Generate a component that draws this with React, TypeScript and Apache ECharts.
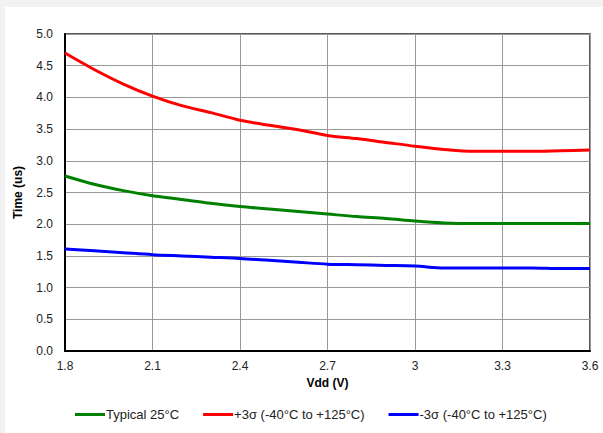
import React, { useEffect, useRef } from "react";
import * as echarts from "echarts";

const vdd = [1.8, 1.9, 2.0, 2.1, 2.2, 2.3, 2.4, 2.5, 2.6, 2.7, 2.8, 2.9, 3.0, 3.1, 3.2, 3.3, 3.4, 3.5, 3.6];
const typical = [2.76, 2.63, 2.53, 2.45, 2.39, 2.33, 2.28, 2.24, 2.20, 2.16, 2.12, 2.09, 2.05, 2.02, 2.01, 2.01, 2.01, 2.01, 2.01];
const plus3 = [4.70, 4.44, 4.21, 4.02, 3.87, 3.76, 3.64, 3.56, 3.49, 3.40, 3.35, 3.29, 3.23, 3.18, 3.15, 3.15, 3.15, 3.16, 3.17];
const minus3 = [1.61, 1.58, 1.55, 1.52, 1.50, 1.48, 1.46, 1.43, 1.40, 1.37, 1.36, 1.35, 1.34, 1.31, 1.31, 1.31, 1.31, 1.30, 1.30];
const seriesNames = ["Typical 25°C", "+3σ (-40°C to +125°C)", "-3σ (-40°C to +125°C)"];
const seriesColors = ["#008000", "#ff0000", "#0000ff"];

const FONT = "'Liberation Sans', Arial, sans-serif";

export default function App() {
  const ref = useRef<HTMLDivElement>(null);
  useEffect(() => {
    document.body.style.margin = "0";
    const chart = echarts.init(ref.current!, null, { renderer: "svg" });
    const mk = (vals: number[]) => vdd.map((x, i) => [x, vals[i]]);
    const all = [typical, plus3, minus3];
    chart.setOption({
      animation: false,
      backgroundColor: "#f2f2f2",
      textStyle: { fontFamily: FONT },
      graphic: [
        { type: "rect", z: -10, shape: { x: 5, y: 7, width: 598, height: 426 }, style: { fill: "#ffffff" }, silent: true },
      ],
      grid: {
        left: 65,
        right: 13,
        top: 34,
        bottom: 82,
        show: true,
        borderColor: "#222",
        borderWidth: 1.5,
        containLabel: false,
      },
      xAxis: {
        type: "value",
        min: 1.8,
        max: 3.6,
        interval: 0.3,
        name: "Vdd (V)",
        nameLocation: "middle",
        nameGap: 25,
        nameTextStyle: { fontWeight: "bold", fontSize: 12, color: "#000", fontFamily: FONT },
        axisLine: { show: true, lineStyle: { color: "#000", width: 2 } },
        axisTick: { show: false },
        axisLabel: {
          color: "#222",
          fontSize: 12,
          margin: 9,
          fontFamily: FONT,
          formatter: (v: number) => String(+v.toFixed(1)),
        },
        splitLine: { show: true, lineStyle: { color: "#999", width: 1 } },
      },
      yAxis: {
        type: "value",
        min: 0,
        max: 5,
        interval: 0.5,
        name: "Time (us)",
        nameLocation: "middle",
        nameGap: 41,
        nameTextStyle: { fontWeight: "bold", fontSize: 12, color: "#000", fontFamily: FONT },
        axisLine: { show: true, lineStyle: { color: "#000", width: 2 } },
        axisTick: { show: false },
        axisLabel: {
          color: "#222",
          fontSize: 12,
          margin: 12,
          fontFamily: FONT,
          formatter: (v: number) => v.toFixed(1),
        },
        splitLine: { show: true, lineStyle: { color: "#999", width: 1 } },
      },
      legend: {
        bottom: 7,
        left: 70,
        icon: "rect",
        itemWidth: 30,
        itemHeight: 3,
        itemGap: 24,
        textStyle: { color: "#222", fontSize: 13, fontFamily: FONT, padding: [0, 0, 0, -4] },
        data: seriesNames,
      },
      series: all.map((vals, i) => ({
        name: seriesNames[i],
        type: "line",
        data: mk(vals),
        smooth: 0.3,
        symbol: "none",
        lineStyle: { color: seriesColors[i], width: 3 },
        itemStyle: { color: seriesColors[i] },
      })),
    });
    return () => chart.dispose();
  }, []);
  return <div ref={ref} style={{ width: 603, height: 433 }} />;
}
